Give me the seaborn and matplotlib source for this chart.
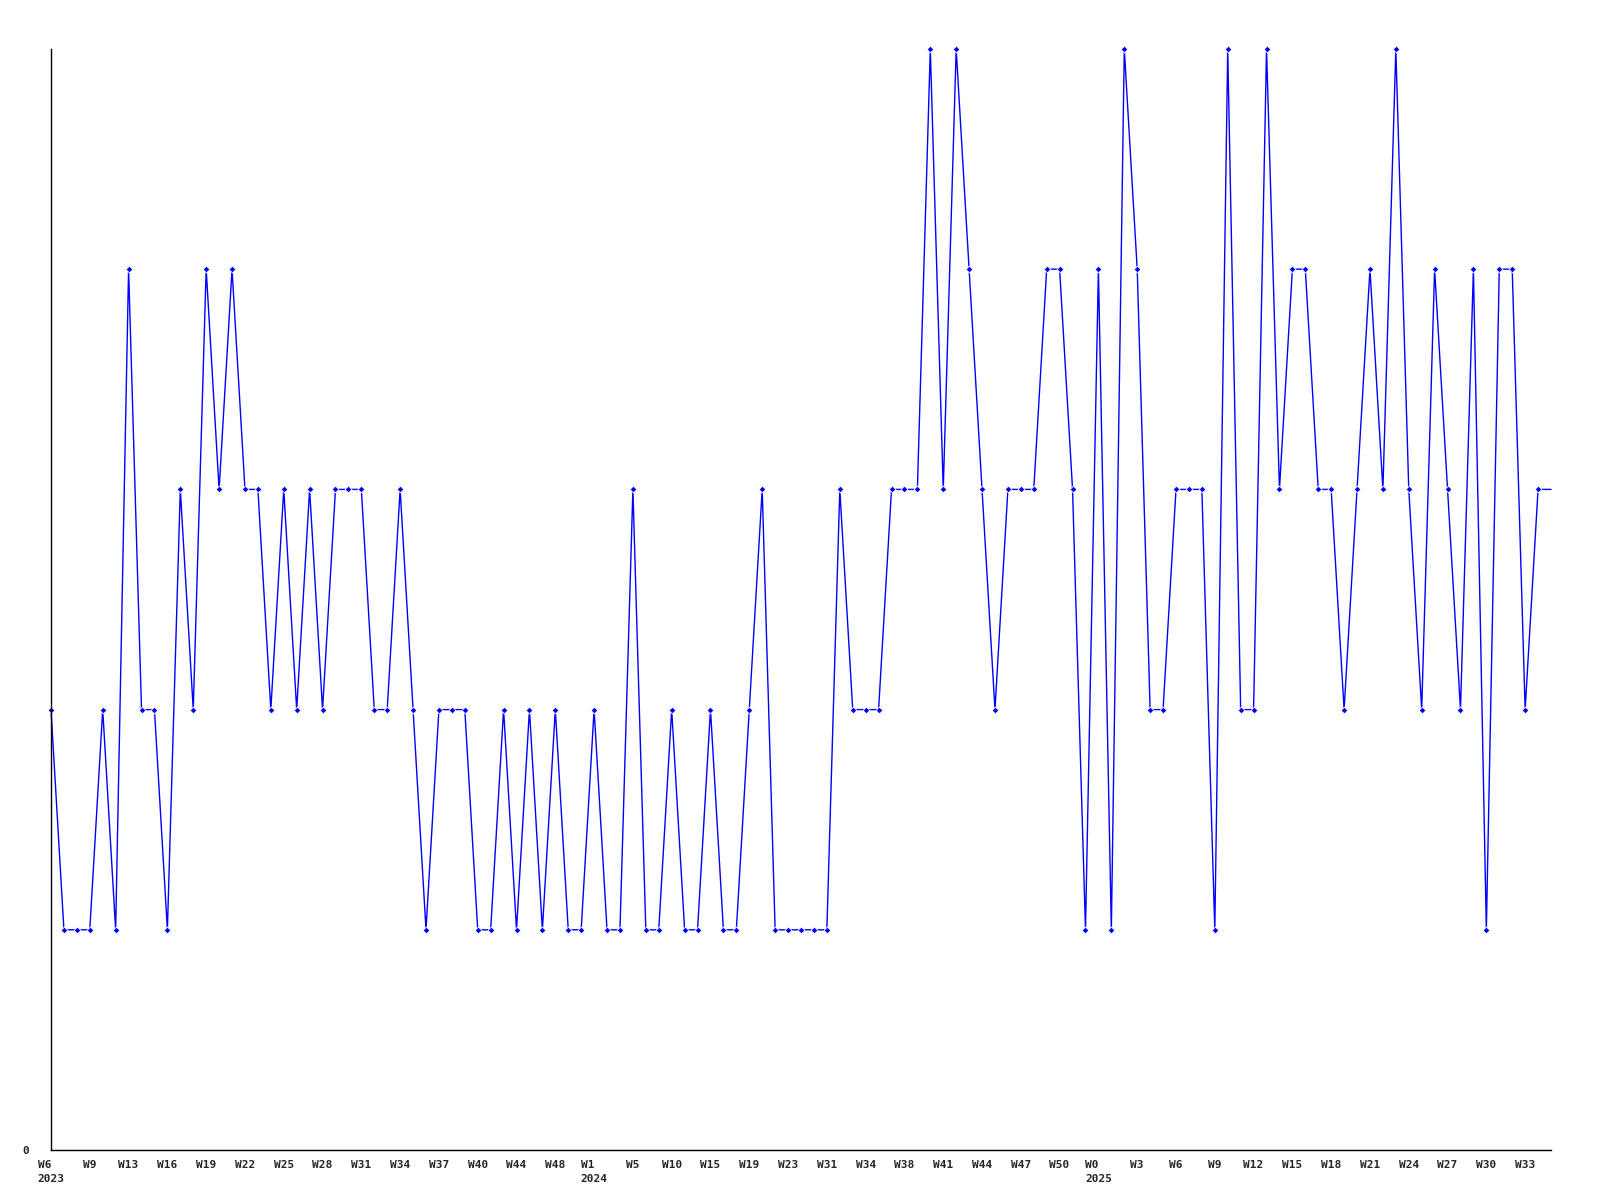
import numpy as np
import pandas as pd
import seaborn as sns
import matplotlib.pyplot as plt

# weekly counts, one value per data point (x is just the point index)
values = [
    2, 1, 1, 1, 2, 1, 4, 2, 2, 1,
    3, 2, 4, 3, 4, 3, 3, 2, 3, 2,
    3, 2, 3, 3, 3, 2, 2, 3, 2, 1,
    2, 2, 2, 1, 1, 2, 1, 2, 1, 2,
    1, 1, 2, 1, 1, 3, 1, 1, 2, 1,
    1, 2, 1, 1, 2, 3, 1, 1, 1, 1,
    1, 3, 2, 2, 2, 3, 3, 3, 5, 3,
    5, 4, 3, 2, 3, 3, 3, 4, 4, 3,
    1, 4, 1, 5, 4, 2, 2, 3, 3, 3,
    1, 5, 2, 2, 5, 3, 4, 4, 3, 3,
    2, 3, 4, 3, 5, 3, 2, 4, 3, 2,
    4, 1, 4, 4, 2, 3, 3,
]

# a label on every third point
week_labels = [
    "W6", "W9", "W13", "W16", "W19", "W22", "W25", "W28", "W31", "W34",
    "W37", "W40", "W44", "W48",
    "W1", "W5", "W10", "W15", "W19", "W23", "W31", "W34", "W38", "W41",
    "W44", "W47", "W50",
    "W0", "W3", "W6", "W9", "W12", "W15", "W18", "W21", "W24", "W27",
    "W30", "W33",
]
year_labels = {0: "2023", 14: "2024", 27: "2025"}

df = pd.DataFrame({"idx": np.arange(len(values)), "count": values})

sns.set_style("white")
plt.rcParams["font.family"] = ["DejaVu Sans Mono"]

fig = plt.figure(figsize=(16, 12), dpi=100)
ax = fig.add_axes([51 / 1600, 50 / 1200, 1500 / 1600, 1101 / 1200])

sns.lineplot(
    data=df,
    x="idx",
    y="count",
    color="#0000ff",
    linewidth=1,
    marker="D",
    markersize=3.5,
    markeredgewidth=0.6,
    markevery=list(range(len(values) - 1)),
    ax=ax,
)
# keep the markers on the top edge whole
for ln in ax.lines:
    ln.set_clip_on(False)

ax.set_xlim(0, len(values) - 1)
ax.set_ylim(0, 5)

tick_pos = list(range(0, len(values) - 1, 3))[: len(week_labels)]
tick_txt = []
for n, w in enumerate(week_labels):
    tick_txt.append(w + "\n" + year_labels[n] if n in year_labels else w)
ax.set_xticks(tick_pos)
ax.set_xticklabels(tick_txt, fontsize=8, fontweight="bold",
                   multialignment="left", linespacing=1.5)
ax.set_yticks([0])
ax.set_yticklabels(["0"], fontsize=8, fontweight="bold")
ax.tick_params(axis="x", length=0, pad=7)
ax.tick_params(axis="y", length=0, pad=16)

ax.set_xlabel("")
ax.set_ylabel("")
sns.despine(ax=ax)
for s in ("left", "bottom"):
    ax.spines[s].set_color("black")
    ax.spines[s].set_linewidth(1)

fig.savefig("out.png", dpi=100, facecolor="white")
